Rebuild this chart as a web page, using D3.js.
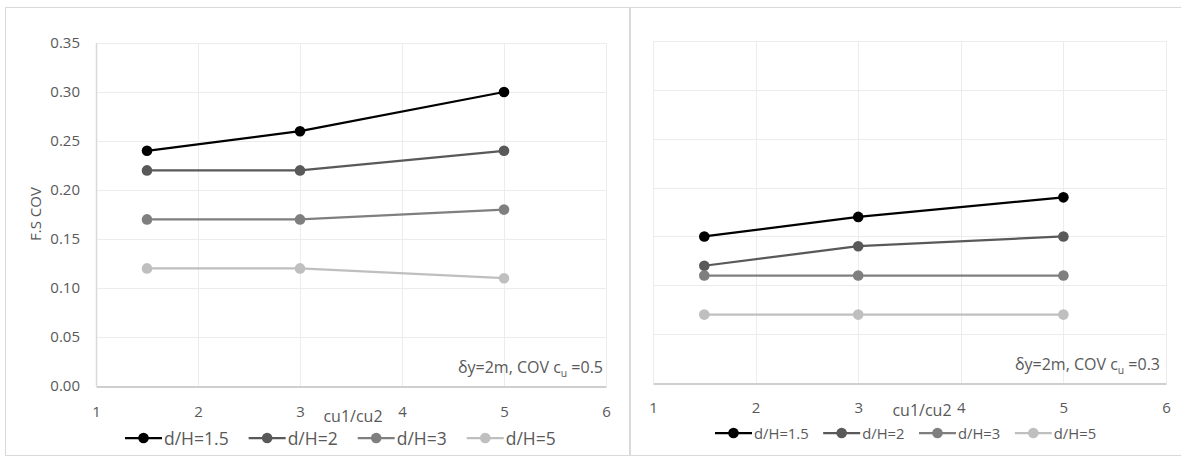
<!DOCTYPE html>
<html>
<head>
<meta charset="utf-8">
<script src="https://cdn.jsdelivr.net/npm/d3@7"></script>
<style>
  html, body { margin: 0; padding: 0; background: #fff; }
  svg { display: block; font-family: "Open Sans", "Noto Sans", sans-serif; }
</style>
</head>
<body>
<svg id="chart" width="1181" height="456"></svg>
<script>
// cu1/cu2 ratios sampled for every series
const ratios = [1.5, 3, 5];
const seriesNames = ["d/H=1.5", "d/H=2", "d/H=3", "d/H=5"];
const seriesColors = ["#000000", "#595959", "#7f7f7f", "#bfbfbf"];

// F.S COV, δy = 2 m, COV of cu = 0.5
const cov05_dH15 = [0.24, 0.26, 0.30];
const cov05_dH2  = [0.22, 0.22, 0.24];
const cov05_dH3  = [0.17, 0.17, 0.18];
const cov05_dH5  = [0.12, 0.12, 0.11];

// F.S COV, δy = 2 m, COV of cu = 0.3
const cov03_dH15 = [0.15, 0.17, 0.19];
const cov03_dH2  = [0.12, 0.14, 0.15];
const cov03_dH3  = [0.11, 0.11, 0.11];
const cov03_dH5  = [0.07, 0.07, 0.07];

const xTicks = [1, 2, 3, 4, 5, 6];
const yTicks = [0, 0.05, 0.10, 0.15, 0.20, 0.25, 0.30, 0.35];

const svg = d3.select("#chart");
const FONT = "'Open Sans', 'Noto Sans', sans-serif";

function drawPanel(opt) {
  const g = svg.append("g");

  // chart frame
  g.append("rect")
    .attr("x", opt.frame[0] + 0.5).attr("y", opt.frame[1] + 0.5)
    .attr("width", opt.frame[2]).attr("height", opt.frame[3])
    .attr("fill", "#fff").attr("stroke", "#d9d9d9").attr("stroke-width", 1);

  const x = d3.scaleLinear().domain([1, 6]).range([opt.plot.left, opt.plot.right]);
  const y = d3.scaleLinear().domain([0, 0.35]).range([opt.plot.bottom, opt.plot.top]);

  // gridlines
  g.append("g").selectAll("line").data(yTicks.slice(1)).join("line")
    .attr("x1", opt.plot.left).attr("x2", opt.plot.right)
    .attr("y1", d => Math.round(y(d)) + 0.5).attr("y2", d => Math.round(y(d)) + 0.5)
    .attr("stroke", "#ececec").attr("stroke-width", 1);
  g.append("g").selectAll("line").data(xTicks.slice(1)).join("line")
    .attr("y1", opt.plot.top).attr("y2", opt.plot.bottom)
    .attr("x1", d => Math.round(x(d)) + 0.5).attr("x2", d => Math.round(x(d)) + 0.5)
    .attr("stroke", "#ececec").attr("stroke-width", 1);

  // vertical axis line
  g.append("line")
    .attr("x1", Math.round(x(1)) + 0.5).attr("x2", Math.round(x(1)) + 0.5)
    .attr("y1", opt.plot.top).attr("y2", opt.plot.bottom)
    .attr("stroke", opt.showYLabels ? "#d9d9d9" : "#ececec").attr("stroke-width", opt.showYLabels ? 1.5 : 1);

  // horizontal axis
  const xAxis = d3.axisBottom(x).tickValues(xTicks).tickFormat(d3.format("d"))
    .tickSize(0).tickPadding(opt.xTickPad);
  const xg = g.append("g").attr("transform", `translate(0,${Math.round(opt.plot.bottom) + 0.5})`).call(xAxis);
  xg.select(".domain").attr("stroke", "#bfbfbf").attr("stroke-width", 1.5);
  xg.selectAll("text").attr("fill", "#595959").style("font-size", opt.tickFont + "px")
    .style("font-family", FONT);

  if (opt.showYLabels) {
    const yAxis = d3.axisLeft(y).tickValues(yTicks).tickFormat(d3.format(".2f")).tickSize(0).tickPadding(16);
    const yg = g.append("g").attr("transform", `translate(${opt.plot.left},0)`).call(yAxis);
    yg.select(".domain").remove();
    yg.selectAll("text").attr("fill", "#595959").style("font-size", opt.tickFont + "px")
      .style("font-family", FONT);

    g.append("text")
      .attr("transform", `translate(${opt.yTitle[0]},${opt.yTitle[1]}) rotate(-90)`)
      .attr("text-anchor", "middle").attr("dominant-baseline", "central")
      .attr("fill", "#595959").style("font-size", opt.yTitleFont + "px")
      .text("F.S COV");
  }

  // axis title
  g.append("text")
    .attr("x", opt.xTitle[0]).attr("y", opt.xTitle[1])
    .attr("text-anchor", "middle").attr("dominant-baseline", "central")
    .attr("fill", "#595959").style("font-size", opt.titleFont + "px")
    .text("cu1/cu2");

  // series lines and markers
  const line = d3.line().x((d, i) => x(ratios[i])).y(d => y(d));
  opt.series.forEach((vals, si) => {
    g.append("path").datum(vals)
      .attr("d", line).attr("fill", "none")
      .attr("stroke", seriesColors[si]).attr("stroke-width", 2.25)
      .attr("stroke-linejoin", "round");
    g.append("g").selectAll("circle").data(vals).join("circle")
      .attr("cx", (d, i) => x(ratios[i])).attr("cy", d => y(d))
      .attr("r", 5.3).attr("fill", seriesColors[si]);
  });

  // annotation
  const ann = g.append("text")
    .attr("x", opt.annot[0]).attr("y", opt.annot[1])
    .attr("text-anchor", "end").attr("fill", "#595959")
    .style("font-size", opt.annotFont + "px");
  ann.append("tspan").text("δy=2m, COV c");
  ann.append("tspan").attr("dy", 4).style("font-size", (opt.annotFont * 0.65) + "px").text("u");
  ann.append("tspan").attr("dy", -4).text(" =" + opt.covLabel);

  // legend, flow layout starting at the given point
  const lg = g.append("g");
  let cx = opt.legend[0];
  seriesNames.forEach((name, i) => {
    const it = lg.append("g").attr("transform", `translate(${cx},${opt.legend[1]})`);
    it.append("line").attr("x1", 0).attr("x2", opt.legendLine).attr("y1", 0).attr("y2", 0)
      .attr("stroke", seriesColors[i]).attr("stroke-width", 2.25);
    it.append("circle").attr("cx", opt.legendLine / 2).attr("cy", 0).attr("r", 5.3).attr("fill", seriesColors[i]);
    const t = it.append("text").attr("x", opt.legendLine + 2).attr("y", 0)
      .attr("dominant-baseline", "central").attr("fill", "#595959")
      .style("font-size", opt.legendFont + "px").text(name);
    cx += opt.legendLine + 2 + t.node().getComputedTextLength() + opt.legendGap;
  });
}

drawPanel({
  frame: [5, 7, 624, 448],
  plot: { left: 96, right: 606, top: 43, bottom: 386 },
  showYLabels: true,
  yTitle: [35, 214], yTitleFont: 15,
  xTitle: [353, 416],
  tickFont: 15, xTickPad: 20, titleFont: 16, annotFont: 16, legendFont: 17.5,
  annot: [603, 373], covLabel: "0.5",
  legend: [125, 438], legendLine: 37, legendGap: 20,
  series: [cov05_dH15, cov05_dH2, cov05_dH3, cov05_dH5]
});

drawPanel({
  frame: [630, 7, 560, 448],
  plot: { left: 653, right: 1166, top: 41, bottom: 383 },
  showYLabels: false,
  xTitle: [922, 410],
  tickFont: 15, xTickPad: 18.5, titleFont: 16, annotFont: 16, legendFont: 14.8,
  annot: [1160, 370], covLabel: "0.3",
  legend: [715, 433], legendLine: 37, legendGap: 14.5,
  series: [cov03_dH15, cov03_dH2, cov03_dH3, cov03_dH5]
});
</script>
</body>
</html>
